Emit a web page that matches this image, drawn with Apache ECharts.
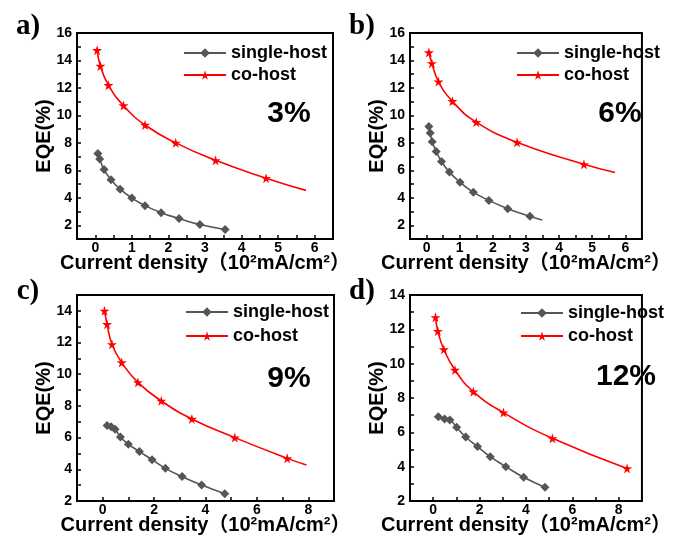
<!DOCTYPE html>
<html><head><meta charset="utf-8">
<script src="https://cdn.jsdelivr.net/npm/echarts@6/dist/echarts.min.js"></script>
<style>html,body{margin:0;padding:0;background:#fff}#c{width:673px;height:536px}</style>
</head><body><div id="c"></div>
<script>
// ---- Data (x: current density 10^2 mA/cm^2, y: EQE %) ----
const aSingleX = [0.07,0.12,0.24,0.43,0.68,1.0,1.36,1.8,2.29,2.86,3.55];
const aSingleY = [7.22,6.83,6.06,5.31,4.63,3.98,3.43,2.92,2.49,2.05,1.69];
const aCoX = [0.05,0.14,0.36,0.77,1.36,2.2,3.29,4.67];
const aCoY = [14.75,13.6,12.2,10.72,9.3,8.0,6.73,5.43];
const aCoTail = [5.76,4.54];

const bSingleX = [0.07,0.11,0.17,0.29,0.45,0.69,1.01,1.41,1.88,2.45,3.12];
const bSingleY = [9.2,8.72,8.09,7.38,6.64,5.87,5.14,4.41,3.81,3.21,2.65];
const bSingleTail = [3.49,2.38];
const bCoX = [0.07,0.16,0.36,0.78,1.5,2.73,4.75];
const bCoY = [14.58,13.79,12.46,11.03,9.51,8.04,6.44];
const bCoTail = [5.69,5.84];

const cSingleX = [0.17,0.33,0.48,0.69,1.0,1.43,1.92,2.44,3.09,3.85,4.75];
const cSingleY = [6.76,6.69,6.53,6.04,5.58,5.12,4.61,4.06,3.54,3.01,2.46];
const cCoX = [0.07,0.17,0.36,0.74,1.37,2.28,3.47,5.14,7.18];
const cCoY = [14.0,13.16,11.89,10.74,9.49,8.32,7.18,6.0,4.69];
const cCoTail = [7.93,4.27];

const dSingleX = [0.22,0.49,0.72,1.01,1.4,1.91,2.46,3.13,3.9,4.82];
const dSingleY = [6.91,6.78,6.72,6.29,5.73,5.17,4.58,4.0,3.38,2.8];
const dCoX = [0.1,0.2,0.46,0.94,1.73,3.03,5.14,8.36];
const dCoY = [12.7,11.9,10.83,9.63,8.37,7.15,5.65,3.9];

const panelLetters = ['a)','b)','c)','d)'];
const dopingLabels = ['3%','6%','9%','12%'];
const seriesNames = ['single-host','co-host'];
// axis ranges, tick step (major+minor ticks) and label step
const xRangeAB = [-0.5, 6.5], xTickStepAB = 0.5, xLabelStepAB = 1;
const xRangeCD = [-1, 9],     xTickStepCD = 1,   xLabelStepCD = 2;
const yRangeA = [1, 16], yRangeB = [1, 16], yRangeC = [2, 15], yRangeD = [2, 14];
const yTickStep = 1, yLabelStep = 2;
const xTitle = 'Current density（10²mA/cm²）';
const yTitle = 'EQE(%)';

// ---- Layout ----
const FONT = '"Liberation Sans", Arial, "Noto Sans CJK SC", sans-serif';
const grids = [
  {left:77, top:33, width:256, height:206},
  {left:410, top:33, width:256, height:206},
  {left:77, top:295, width:257, height:208},
  {left:410, top:295, width:257, height:208}
];
const xRanges = [xRangeAB, xRangeAB, xRangeCD, xRangeCD];
const xSteps = [[xTickStepAB,xLabelStepAB],[xTickStepAB,xLabelStepAB],[xTickStepCD,xLabelStepCD],[xTickStepCD,xLabelStepCD]];
const yRanges = [yRangeA, yRangeB, yRangeC, yRangeD];

const STAR = 'path://M50,0 L61,35 L98,35 L68,57 L79,91 L50,70 L21,91 L32,57 L2,35 L39,35 Z';
const GRAY = '#555555', RED = '#ff0000';

function pts(xs, ys, tail){
  const d = xs.map((x,i)=>[x, ys[i]]);
  if (tail) d.push({value:[tail[0],tail[1]], symbolSize:0});
  return d;
}
const panelData = [
  [pts(aSingleX,aSingleY), pts(aCoX,aCoY,aCoTail)],
  [pts(bSingleX,bSingleY,bSingleTail), pts(bCoX,bCoY,bCoTail)],
  [pts(cSingleX,cSingleY), pts(cCoX,cCoY,cCoTail)],
  [pts(dSingleX,dSingleY), pts(dCoX,dCoY)]
];
function stepFormatter(step){
  return v => {
    const r = v / step;
    return Math.abs(r - Math.round(r)) < 1e-6 ? String(Math.round(v*100)/100) : '';
  };
}

const xAxis = [], yAxis = [], series = [], legend = [], graphic = [];
grids.forEach((g,i)=>{
  xAxis.push({
    type:'value', gridIndex:i, min:xRanges[i][0], max:xRanges[i][1], interval:xSteps[i][0],
    position:'bottom',
    name:xTitle, nameLocation:'middle', nameGap:14, nameMoveOverlap:false,
    nameTextStyle:{fontFamily:FONT, fontWeight:'bold', fontSize:20, color:'#000'},
    axisLine:{show:true, onZero:false, lineStyle:{color:'#000', width:2}},
    axisTick:{show:true, inside:true, length:4, lineStyle:{color:'#000', width:1.5}},
    axisLabel:{formatter:stepFormatter(xSteps[i][1]), showMinLabel:true, showMaxLabel:true, hideOverlap:false,
      fontFamily:FONT, fontWeight:'bold', fontSize:14, color:'#000', margin:2},
    splitLine:{show:false}
  });
  yAxis.push({
    type:'value', gridIndex:i, min:yRanges[i][0], max:yRanges[i][1], interval:yTickStep,
    position:'left',
    name:yTitle, nameLocation:'middle', nameGap:23, nameMoveOverlap:false,
    nameTextStyle:{fontFamily:FONT, fontWeight:'bold', fontSize:20, color:'#000'},
    axisLine:{show:true, onZero:false, lineStyle:{color:'#000', width:2}},
    axisTick:{show:true, inside:true, length:4, lineStyle:{color:'#000', width:1.5}},
    axisLabel:{formatter:stepFormatter(yLabelStep), hideOverlap:false,
      fontFamily:FONT, fontWeight:'bold', fontSize:14, color:'#000', margin:5},
    splitLine:{show:false}
  });
  series.push({
    name:seriesNames[0], type:'line', xAxisIndex:i, yAxisIndex:i, smooth:true,
    symbol:'diamond', symbolSize:9, data:panelData[i][0],
    lineStyle:{color:GRAY, width:1.6}, itemStyle:{color:GRAY}
  });
  series.push({
    name:seriesNames[1], type:'line', xAxisIndex:i, yAxisIndex:i, smooth:true,
    symbol:STAR, symbolSize:10, data:panelData[i][1],
    lineStyle:{color:RED, width:1.6}, itemStyle:{color:RED}
  });
});

const legendPos = [[183,44,4],[516,44,4],[185,303,6],[520,304,5]];
legendPos.forEach(p=>{
  legend.push({
    data:seriesNames, orient:'vertical', left:p[0], top:p[1], itemGap:p[2],
    itemWidth:42, itemHeight:12, padding:0,
    textStyle:{fontFamily:FONT, fontSize:18, fontWeight:'bold', color:'#000', lineHeight:18}
  });
});

const letterPos = [[28,27],[362,27],[28,292],[362,292]];
letterPos.forEach((p,i)=>{
  graphic.push({type:'text', x:p[0], y:p[1], style:{text:panelLetters[i], fill:'#000',
    font:'bold 29px "Liberation Serif", "Times New Roman", serif', align:'center', verticalAlign:'middle'}});
});
const pctPos = [[289,114],[620,114],[289,379],[626,377]];
pctPos.forEach((p,i)=>{
  graphic.push({type:'text', x:p[0], y:p[1], style:{text:dopingLabels[i], fill:'#000',
    font:'bold 30px ' + FONT, align:'center', verticalAlign:'middle'}});
});

const chart = echarts.init(document.getElementById('c'), null, {renderer:'canvas'});
chart.setOption({
  animation:false,
  backgroundColor:'#fff',
  grid: grids.map(g=>Object.assign({show:true, borderColor:'#000', borderWidth:2, backgroundColor:'transparent'}, g)),
  xAxis, yAxis, series, legend, graphic
});
</script></body></html>
